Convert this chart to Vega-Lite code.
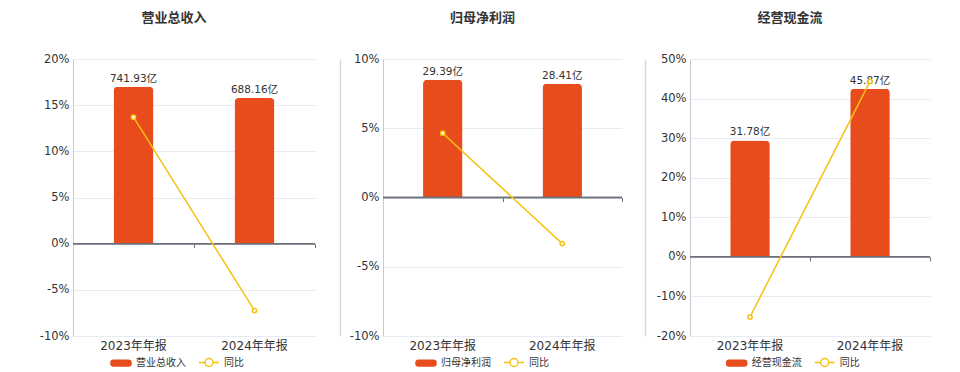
{
  "$schema": "https://vega.github.io/schema/vega-lite/v6.json",
  "padding": {"left": 39, "top": 12, "right": 0, "bottom": 0},
  "autosize": {"type": "pad"},
  "config": {
    "font": "DejaVu Sans, Noto Sans CJK SC",
    "view": {"stroke": null},
    "title": {"fontSize": 13, "fontWeight": "bold", "color": "#333333", "font": "Noto Sans CJK SC"},
    "axis": {"labelOverlap": false}
  },
  "spacing": 68,
  "bounds": "flush",
  "resolve": {"scale": {"color": "independent", "x": "independent", "y": "independent"}},
  "hconcat": [
    {
      "width": 242, "height": 277,
      "title": {"text": "营业总收入", "dx": -20, "offset": 15, "frame": "group", "baseline": "bottom"},
      "data": {"values": [
        {"period": "2023年年报", "value": 741.93, "yoy": 13.7, "label": "741.93亿", "series": "营业总收入"},
        {"period": "2024年年报", "value": 688.16, "yoy": -7.25, "label": "688.16亿", "series": "营业总收入"}
      ]},
      "layer": [
        {"layer": [
          {"mark": {"type": "bar", "width": {"band": 0.33}, "cornerRadiusTopLeft": 4, "cornerRadiusTopRight": 4},
           "encoding": {
             "x": {"field": "period", "type": "nominal", "sort": null, "scale": {"paddingInner": 0, "paddingOuter": 0},
                   "axis": {"orient": "bottom", "title": null, "labelAngle": 0, "domain": false, "ticks": false, "labelPadding": 4, "labelFontSize": 12, "labelColor": "#333333"}},
             "y": {"field": "value", "type": "quantitative", "scale": {"domain": [-436.5, 873], "nice": false, "zero": false},
                   "axis": {"orient": "right", "offset": 25, "title": null, "labels": false, "ticks": false, "grid": false, "domainColor": "#d9d9d9", "domainWidth": 1.5}},
             "color": {"field": "series", "type": "nominal", "scale": {"domain": ["营业总收入", "同比"], "range": ["#E84C1D", "#F5C211"]},
                       "legend": {"orient": "none", "legendX": 37, "legendY": 292.5, "direction": "horizontal", "title": null, "symbolSize": 400, "labelFontSize": 10, "labelColor": "#333333", "labelOffset": 4, "columnPadding": 10, "padding": 0, "labelFont": "Noto Sans CJK SC",
                         "encode": {"symbols": {"update": {
                           "shape": {"signal": "datum.value === '同比' ? 'M-1,0H-0.4M0.4,0A0.4,0.4,0,1,1,-0.4,0A0.4,0.4,0,1,1,0.4,0A0.4,0.4,0,1,0,-0.4,0A0.4,0.4,0,1,0,0.4,0M0.4,0H1' : 'M-0.75,-0.28H0.75A0.25,0.25,0,0,1,1,-0.03V0.03A0.25,0.25,0,0,1,0.75,0.28H-0.75A0.25,0.25,0,0,1,-1,0.03V-0.03A0.25,0.25,0,0,1,-0.75,-0.28Z'"},
                           "strokeWidth": {"value": 1.5}, "opacity": {"value": 1}}}}}}
           }},
          {"mark": {"type": "text", "dy": -8, "fontSize": 10.5, "color": "#333333"},
           "encoding": {
             "x": {"field": "period", "type": "nominal", "sort": null},
             "y": {"field": "value", "type": "quantitative"},
             "text": {"field": "label"}
           }}
        ]},
        {"layer": [
          {"mark": {"type": "rule", "color": "#6E7079", "strokeWidth": 1.5},
           "encoding": {"y": {"datum": 0, "type": "quantitative"}}},
          {"mark": {"type": "line", "strokeWidth": 1.5},
           "encoding": {
             "x": {"field": "period", "type": "nominal", "sort": null,
                   "axis": {"orient": "bottom", "offset": -92.3, "title": null, "labels": false, "domain": false, "ticks": true, "tickBand": "extent", "tickSize": 4, "tickColor": "#6E7079"}},
             "y": {"field": "yoy", "type": "quantitative", "scale": {"domain": [-10, 20], "nice": false},
                   "axis": {"orient": "left", "values": [-10, -5, 0, 5, 10, 15, 20], "tickCount": 7, "labelExpr": "datum.value + '%'", "title": null, "ticks": false, "domainColor": "#c6cad2", "gridColor": "#e8ebf2", "grid": true, "labelFontSize": 11.5, "labelColor": "#333333", "labelPadding": 4}},
             "color": {"datum": "同比"}
           }},
          {"mark": {"type": "point", "filled": true, "fill": "#ffffff", "stroke": "#F5C211", "strokeWidth": 1.5, "size": 18, "opacity": 1},
           "encoding": {
             "x": {"field": "period", "type": "nominal", "sort": null},
             "y": {"field": "yoy", "type": "quantitative"}
           }}
        ]}
      ],
      "resolve": {"scale": {"y": "independent"}, "axis": {"x": "independent"}}
    },
    {
      "width": 239, "height": 277,
      "title": {"text": "归母净利润", "dx": -20, "offset": 15, "frame": "group", "baseline": "bottom"},
      "data": {"values": [
        {"period": "2023年年报", "value": 29.39, "yoy": 4.64, "label": "29.39亿", "series": "归母净利润"},
        {"period": "2024年年报", "value": 28.41, "yoy": -3.33, "label": "28.41亿", "series": "归母净利润"}
      ]},
      "layer": [
        {"layer": [
          {"mark": {"type": "bar", "width": {"band": 0.33}, "cornerRadiusTopLeft": 4, "cornerRadiusTopRight": 4},
           "encoding": {
             "x": {"field": "period", "type": "nominal", "sort": null, "scale": {"paddingInner": 0, "paddingOuter": 0},
                   "axis": {"orient": "bottom", "title": null, "labelAngle": 0, "domain": false, "ticks": false, "labelPadding": 4, "labelFontSize": 12, "labelColor": "#333333"}},
             "y": {"field": "value", "type": "quantitative", "scale": {"domain": [-34.6, 34.6], "nice": false, "zero": false},
                   "axis": {"orient": "right", "offset": 23, "title": null, "labels": false, "ticks": false, "grid": false, "domainColor": "#d9d9d9", "domainWidth": 1.5}},
             "color": {"field": "series", "type": "nominal", "scale": {"domain": ["归母净利润", "同比"], "range": ["#E84C1D", "#F5C211"]},
                       "legend": {"orient": "none", "legendX": 32, "legendY": 292.5, "direction": "horizontal", "title": null, "symbolSize": 400, "labelFontSize": 10, "labelColor": "#333333", "labelOffset": 4, "columnPadding": 10, "padding": 0, "labelFont": "Noto Sans CJK SC",
                         "encode": {"symbols": {"update": {
                           "shape": {"signal": "datum.value === '同比' ? 'M-1,0H-0.4M0.4,0A0.4,0.4,0,1,1,-0.4,0A0.4,0.4,0,1,1,0.4,0A0.4,0.4,0,1,0,-0.4,0A0.4,0.4,0,1,0,0.4,0M0.4,0H1' : 'M-0.75,-0.28H0.75A0.25,0.25,0,0,1,1,-0.03V0.03A0.25,0.25,0,0,1,0.75,0.28H-0.75A0.25,0.25,0,0,1,-1,0.03V-0.03A0.25,0.25,0,0,1,-0.75,-0.28Z'"},
                           "strokeWidth": {"value": 1.5}, "opacity": {"value": 1}}}}}}
           }},
          {"mark": {"type": "text", "dy": -8, "fontSize": 10.5, "color": "#333333"},
           "encoding": {
             "x": {"field": "period", "type": "nominal", "sort": null},
             "y": {"field": "value", "type": "quantitative"},
             "text": {"field": "label"}
           }}
        ]},
        {"layer": [
          {"mark": {"type": "rule", "color": "#6E7079", "strokeWidth": 1.5},
           "encoding": {"y": {"datum": 0, "type": "quantitative"}}},
          {"mark": {"type": "line", "strokeWidth": 1.5},
           "encoding": {
             "x": {"field": "period", "type": "nominal", "sort": null,
                   "axis": {"orient": "bottom", "offset": -138.5, "title": null, "labels": false, "domain": false, "ticks": true, "tickBand": "extent", "tickSize": 4, "tickColor": "#6E7079"}},
             "y": {"field": "yoy", "type": "quantitative", "scale": {"domain": [-10, 10], "nice": false},
                   "axis": {"orient": "left", "values": [-10, -5, 0, 5, 10], "tickCount": 5, "labelExpr": "datum.value + '%'", "title": null, "ticks": false, "domainColor": "#c6cad2", "gridColor": "#e8ebf2", "grid": true, "labelFontSize": 11.5, "labelColor": "#333333", "labelPadding": 4}},
             "color": {"datum": "同比"}
           }},
          {"mark": {"type": "point", "filled": true, "fill": "#ffffff", "stroke": "#F5C211", "strokeWidth": 1.5, "size": 18, "opacity": 1},
           "encoding": {
             "x": {"field": "period", "type": "nominal", "sort": null},
             "y": {"field": "yoy", "type": "quantitative"}
           }}
        ]}
      ],
      "resolve": {"scale": {"y": "independent"}, "axis": {"x": "independent"}}
    },
    {
      "width": 240, "height": 277,
      "title": {"text": "经营现金流", "dx": -20, "offset": 15, "frame": "group", "baseline": "bottom"},
      "data": {"values": [
        {"period": "2023年年报", "value": 31.78, "yoy": -15.2, "label": "31.78亿", "series": "经营现金流"},
        {"period": "2024年年报", "value": 45.87, "yoy": 44.34, "label": "45.87亿", "series": "经营现金流"}
      ]},
      "layer": [
        {"layer": [
          {"mark": {"type": "bar", "width": {"band": 0.33}, "cornerRadiusTopLeft": 4, "cornerRadiusTopRight": 4},
           "encoding": {
             "x": {"field": "period", "type": "nominal", "sort": null, "scale": {"paddingInner": 0, "paddingOuter": 0},
                   "axis": {"orient": "bottom", "title": null, "labelAngle": 0, "domain": false, "ticks": false, "labelPadding": 4, "labelFontSize": 12, "labelColor": "#333333"}},
             "y": {"field": "value", "type": "quantitative", "scale": {"domain": [-21.6, 54], "nice": false, "zero": false},
                   "axis": {"orient": "right", "title": null, "labels": false, "ticks": false, "grid": false, "domain": false}},
             "color": {"field": "series", "type": "nominal", "scale": {"domain": ["经营现金流", "同比"], "range": ["#E84C1D", "#F5C211"]},
                       "legend": {"orient": "none", "legendX": 35.7, "legendY": 292.5, "direction": "horizontal", "title": null, "symbolSize": 400, "labelFontSize": 10, "labelColor": "#333333", "labelOffset": 4, "columnPadding": 10, "padding": 0, "labelFont": "Noto Sans CJK SC",
                         "encode": {"symbols": {"update": {
                           "shape": {"signal": "datum.value === '同比' ? 'M-1,0H-0.4M0.4,0A0.4,0.4,0,1,1,-0.4,0A0.4,0.4,0,1,1,0.4,0A0.4,0.4,0,1,0,-0.4,0A0.4,0.4,0,1,0,0.4,0M0.4,0H1' : 'M-0.75,-0.28H0.75A0.25,0.25,0,0,1,1,-0.03V0.03A0.25,0.25,0,0,1,0.75,0.28H-0.75A0.25,0.25,0,0,1,-1,0.03V-0.03A0.25,0.25,0,0,1,-0.75,-0.28Z'"},
                           "strokeWidth": {"value": 1.5}, "opacity": {"value": 1}}}}}}
           }},
          {"mark": {"type": "text", "dy": -8, "fontSize": 10.5, "color": "#333333"},
           "encoding": {
             "x": {"field": "period", "type": "nominal", "sort": null},
             "y": {"field": "value", "type": "quantitative"},
             "text": {"field": "label"}
           }}
        ]},
        {"layer": [
          {"mark": {"type": "rule", "color": "#6E7079", "strokeWidth": 1.5},
           "encoding": {"y": {"datum": 0, "type": "quantitative"}}},
          {"mark": {"type": "line", "strokeWidth": 1.5},
           "encoding": {
             "x": {"field": "period", "type": "nominal", "sort": null,
                   "axis": {"orient": "bottom", "offset": -79.1, "title": null, "labels": false, "domain": false, "ticks": true, "tickBand": "extent", "tickSize": 4, "tickColor": "#6E7079"}},
             "y": {"field": "yoy", "type": "quantitative", "scale": {"domain": [-20, 50], "nice": false},
                   "axis": {"orient": "left", "values": [-20, -10, 0, 10, 20, 30, 40, 50], "tickCount": 8, "labelExpr": "datum.value + '%'", "title": null, "ticks": false, "domainColor": "#c6cad2", "gridColor": "#e8ebf2", "grid": true, "labelFontSize": 11.5, "labelColor": "#333333", "labelPadding": 4}},
             "color": {"datum": "同比"}
           }},
          {"mark": {"type": "point", "filled": true, "fill": "#ffffff", "stroke": "#F5C211", "strokeWidth": 1.5, "size": 18, "opacity": 1},
           "encoding": {
             "x": {"field": "period", "type": "nominal", "sort": null},
             "y": {"field": "yoy", "type": "quantitative"}
           }}
        ]}
      ],
      "resolve": {"scale": {"y": "independent"}, "axis": {"x": "independent"}}
    }
  ]
}
